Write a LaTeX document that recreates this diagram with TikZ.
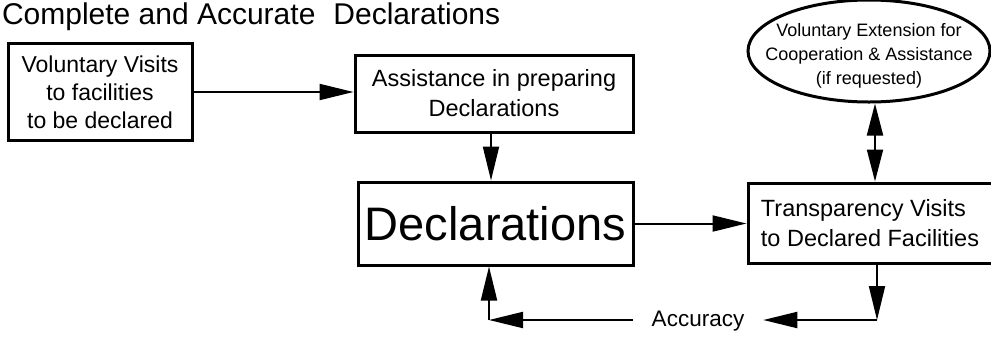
\documentclass[tikz,border=0pt]{standalone}
\usepackage{fontspec}
\setmainfont{Liberation Sans}
\usetikzlibrary{arrows.meta,shapes.geometric}
\begin{document}
\begin{tikzpicture}[x=1pt,y=-1pt,
  line width=2pt,
  boxnode/.style={draw, rectangle, line width=3pt, inner sep=0pt, align=center},
  tip/.style={-{Triangle[length=34pt,width=16pt]}},
  dtip/.style={{Triangle[length=32pt,width=16pt]}-{Triangle[length=32pt,width=16pt]}},
]
\useasboundingbox (0,0) rectangle (991,338);
\node[anchor=base west, inner sep=0pt, font=\fontsize{30}{34}\selectfont] (title) at (1,24) {Complete and Accurate\hspace{18pt}Declarations};
\node[boxnode, minimum width=184pt, minimum height=97pt, font=\fontsize{23}{28}\selectfont] (vv) at (100,92) {Voluntary Visits\\to facilities\\to be declared};
\node[boxnode, minimum width=278pt, minimum height=77pt, font=\fontsize{23.5}{30}\selectfont] (asst) at (494,93.5) {Assistance in preparing\\Declarations};
\node[boxnode, minimum width=275pt, minimum height=83pt, font=\fontsize{47}{50}\selectfont] (decl) at (495.5,223.5) {Declarations};
\node[boxnode, align=left, minimum width=244pt, minimum height=80pt, font=\fontsize{23.5}{30}\selectfont] (tv) at (870,223) {Transparency Visits\\to Declared Facilities};
\node[draw, ellipse, line width=3pt, minimum width=242pt, minimum height=102pt, inner sep=0pt] (ell) at (869,51) {};
\node[align=center, inner sep=0pt, font=\fontsize{18}{24}\selectfont] (elltext) at (869,56) {Voluntary Extension for\\Cooperation \& Assistance\\(if requested)};
\node[inner xsep=18pt, inner ysep=0pt, font=\fontsize{22.5}{26}\selectfont] (acc) at (698,321) {Accuracy};
\coordinate (c1) at (877,320);
\coordinate (c2) at (489,320);
\coordinate (d1) at (875,0);
% connectors
\draw[tip] (vv.east) -- (vv.east -| asst.west);
\draw[tip] (asst.south -| 491,0) -- (decl.north -| 491,0);
\draw[tip] (decl.east) -- (decl.east -| tv.west);
\draw[dtip] (ell.south -| d1) -- (tv.north -| d1);
\draw[tip] (tv.south -| c1) -- (c1);
\draw[tip] (c1) -- (c1 -| acc.east);
\draw[tip] (acc.west |- c2) -- (c2);
\draw[tip] (c2) -- (c2 |- decl.south);
\end{tikzpicture}
\end{document}
